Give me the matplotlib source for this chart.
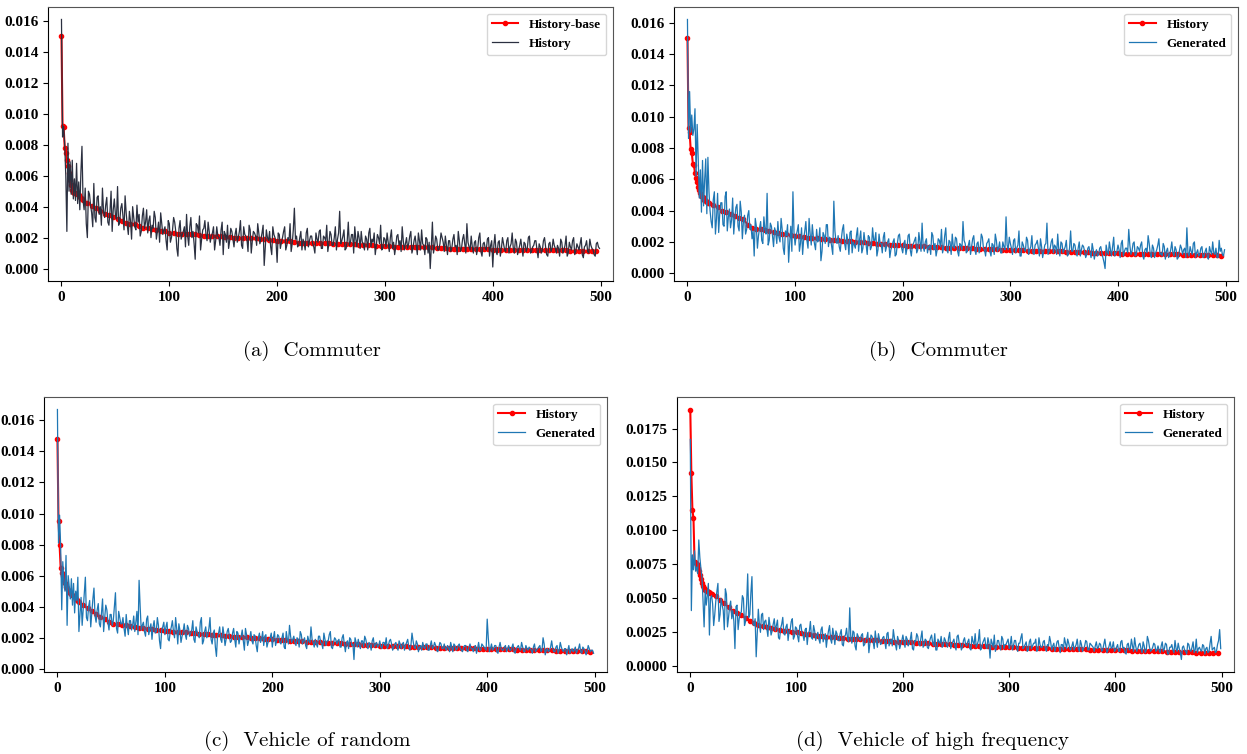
import numpy as np
import matplotlib
matplotlib.use("Agg")
import matplotlib.pyplot as plt

# ---- data ----
# red "history" curves, units of 1e-5; first 20 steps one by one, then every 4 steps
red_a_head = [1500, 920, 915, 780, 750, 700, 660, 620, 570, 540,
              505, 495, 490, 488, 485, 482, 475, 465, 455, 448]
red_a_tail = [440, 425, 405, 390, 375, 355, 345, 330, 320, 305,
              295, 290, 285, 275, 265, 262, 255, 250, 245, 240,
              232, 228, 225, 225, 223, 222, 222, 215, 212, 210,
              210, 210, 208, 205, 205, 200, 198, 197, 196, 195,
              195, 193, 190, 183, 182, 181, 180, 180, 178, 170,
              168, 167, 166, 166, 165, 165, 164, 163, 160, 158,
              157, 157, 156, 156, 155, 155, 154, 153, 145, 144,
              143, 143, 142, 142, 142, 141, 141, 140, 140, 140,
              139, 139, 130, 130, 130, 129, 129, 129, 128, 128,
              128, 128, 127, 127, 127, 122, 122, 122, 121, 121,
              121, 121, 120, 120, 120, 120, 119, 119, 119, 119,
              118, 118, 118, 112, 112, 112, 111, 111, 111, 111]

red_b_head = [1500, 930, 900, 790, 770, 700, 690, 640, 610, 580,
              550, 530, 510, 495, 485, 470, 465, 460, 455, 450]
red_b_tail = [450, 435, 420, 400, 390, 375, 365, 355, 345, 310,
              290, 285, 280, 278, 270, 262, 258, 252, 248, 243,
              240, 236, 232, 228, 225, 222, 220, 218, 215, 213,
              210, 208, 206, 204, 202, 200, 198, 195, 192, 188,
              186, 184, 182, 180, 179, 178, 177, 176, 175, 174,
              172, 170, 168, 166, 165, 164, 163, 162, 161, 160,
              159, 158, 157, 156, 155, 154, 153, 152, 151, 150,
              149, 148, 147, 146, 145, 145, 144, 143, 142, 141,
              140, 140, 139, 138, 137, 136, 135, 134, 133, 132,
              131, 130, 129, 128, 127, 127, 126, 126, 125, 125,
              124, 124, 123, 123, 122, 122, 121, 121, 120, 120,
              119, 119, 118, 118, 117, 116, 115, 115, 114, 113]

red_c_head = [1480, 950, 800, 650, 620, 600, 570, 550, 530, 520,
              510, 500, 490, 485, 478, 470, 460, 450, 442, 435]
red_c_tail = [430, 410, 390, 372, 355, 335, 318, 300, 290, 287,
              285, 280, 275, 270, 266, 262, 258, 255, 252, 248,
              245, 242, 240, 238, 236, 234, 231, 228, 225, 223,
              222, 220, 218, 215, 213, 210, 208, 206, 204, 202,
              200, 198, 196, 194, 192, 190, 188, 186, 184, 182,
              180, 178, 176, 174, 172, 171, 170, 169, 168, 167,
              166, 165, 163, 161, 159, 157, 155, 154, 153, 152,
              150, 149, 148, 147, 146, 145, 144, 143, 142, 141,
              140, 139, 138, 137, 136, 135, 134, 133, 133, 132,
              132, 131, 131, 130, 130, 130, 129, 128, 127, 126,
              125, 125, 124, 123, 122, 121, 120, 120, 119, 119,
              118, 117, 116, 116, 115, 114, 113, 112, 112, 111]

red_d_head = [1890, 1420, 1150, 1090, 770, 760, 750, 720, 700, 670,
              640, 610, 590, 575, 565, 560, 555, 550, 545, 540]
red_d_tail = [535, 515, 490, 465, 435, 405, 390, 375, 355, 335,
              320, 305, 295, 288, 280, 272, 268, 263, 258, 254,
              250, 245, 240, 235, 230, 226, 222, 218, 215, 212,
              209, 206, 204, 202, 200, 198, 196, 194, 192, 190,
              188, 186, 184, 182, 181, 180, 178, 176, 174, 172,
              170, 168, 166, 164, 163, 162, 161, 160, 158, 156,
              155, 153, 151, 150, 148, 147, 145, 144, 142, 141,
              140, 139, 138, 137, 136, 135, 134, 133, 132, 131,
              130, 129, 128, 127, 126, 125, 125, 124, 124, 123,
              123, 122, 122, 121, 121, 120, 119, 118, 117, 116,
              115, 114, 113, 112, 111, 110, 109, 108, 107, 106,
              105, 104, 103, 102, 101, 100, 99, 98, 97, 96]

# noisy curves, units of 1e-4; first 20 steps one by one,
# then even steps (x = 20, 22, ...) and odd steps (x = 21, 23, ...)
hist_a_head = [161, 85, 92, 80, 60, 24, 81, 50, 69, 48,
               70, 45, 58, 44, 68, 42, 56, 38, 62, 79]
hist_a_even = [44, 52, 20, 48, 36, 55, 30, 47, 40, 52,
               33, 46, 28, 50, 38, 35, 53, 30, 42, 25,
               36, 22, 31, 40, 27, 41, 35, 24, 39, 30,
               23, 34, 28, 37, 19, 30, 36, 22, 27, 12,
               29, 20, 33, 24, 8, 31, 22, 27, 35, 15,
               33, 24, 6, 28, 34, 19, 26, 22, 30, 17,
               23, 12, 27, 20, 25, 9, 22, 28, 18, 24,
               14, 26, 20, 31, 13, 22, 19, 28, 10, 24,
               21, 29, 16, 23, 2, 25, 18, 14, 27, 20,
               4, 22, 17, 24, 12, 20, 29, 16, 39, 21,
               15, 24, 19, 12, 26, 18, 21, 14, 23, 17,
               25, 13, 20, 28, 16, 22, 15, 27, 19, 37,
               18, 25, 13, 30, 17, 22, 27, 14, 20, 24,
               16, 21, 12, 26, 19, 23, 15, 20, 28, 13,
               19, 23, 11, 25, 17, 14, 22, 18, 27, 12,
               20, 16, 24, 13, 21, 9, 18, 25, 15, 20,
               10, 0, 30, 14, 19, 12, 23, 17, 21, 9,
               18, 13, 22, 15, 24, 11, 19, 16, 29, 14,
               21, 10, 18, 13, 23, 8, 17, 12, 20, 15,
               1, 22, 9, 18, 13, 16, 11, 20, 14, 23,
               10, 17, 12, 19, 8, 16, 13, 21, 11, 15,
               18, 7, 14, 12, 20, 9, 16, 11, 19, 13,
               15, 8, 17, 12, 21, 10, 14, 18, 9, 16,
               12, 20, 7, 15, 11, 19, 13, 9, 16, 14]
hist_a_odd = [38, 29, 50, 41, 27, 33, 46, 35, 28, 37,
              41, 30, 37, 24, 45, 32, 28, 39, 34, 47,
              28, 37, 19, 33, 25, 30, 21, 34, 26, 38,
              31, 20, 26, 33, 24, 17, 29, 25, 18, 31,
              17, 25, 30, 13, 26, 19, 24, 14, 21, 27,
              20, 16, 29, 23, 12, 25, 31, 18, 24, 21,
              27, 18, 21, 15, 30, 24, 17, 13, 26, 19,
              22, 17, 24, 15, 27, 21, 11, 25, 18, 23,
              15, 23, 19, 28, 14, 20, 24, 9, 22, 17,
              23, 13, 20, 27, 15, 18, 11, 25, 19, 14,
              20, 12, 17, 23, 14, 21, 16, 10, 19, 24,
              13, 21, 18, 11, 24, 15, 20, 12, 23, 16,
              21, 12, 18, 15, 22, 10, 19, 24, 13, 17,
              12, 19, 23, 14, 17, 9, 22, 16, 12, 20,
              14, 17, 20, 13, 9, 21, 15, 11, 18, 16,
              13, 21, 10, 18, 15, 23, 12, 16, 9, 19,
              17, 14, 10, 21, 12, 16, 20, 11, 15, 18,
              11, 19, 14, 9, 18, 13, 22, 10, 17, 12,
              14, 17, 9, 20, 11, 16, 13, 19, 8, 18,
              15, 11, 17, 8, 20, 12, 18, 10, 16, 13,
              19, 9, 15, 13, 17, 11, 20, 10, 14, 18,
              12, 16, 10, 18, 14, 8, 17, 13, 15, 10,
              13, 19, 10, 15, 8, 17, 12, 20, 11, 14,
              16, 9, 14, 18, 10, 15, 12, 8, 17, 13]

gen_b_head = [162, 86, 116, 90, 101, 88, 92, 105, 62, 95,
              73, 48, 66, 39, 72, 43, 60, 73, 38, 74]
gen_b_even = [52, 33, 47, 25, 51, 38, 45, 30, 52, 36,
              29, 48, 35, 44, 27, 39, 33, 25, 37, 28,
              22, 11, 30, 24, 33, 19, 28, 51, 21, 30,
              17, 26, 33, 20, 28, 12, 24, 7, 30, 52,
              18, 27, 14, 29, 22, 33, 16, 25, 31, 19,
              28, 21, 8, 26, 19, 31, 23, 17, 46, 20,
              24, 14, 28, 19, 25, 12, 27, 20, 16, 29,
              22, 13, 26, 18, 24, 15, 29, 21, 11, 25,
              19, 23, 14, 20, 10, 17, 22, 12, 24, 18,
              13, 21, 16, 25, 11, 19, 23, 15, 20, 32,
              14, 22, 17, 12, 24, 19, 15, 21, 28, 16,
              29, 13, 20, 25, 16, 22, 11, 18, 33, 19,
              14, 21, 17, 24, 12, 20, 16, 23, 15, 19,
              22, 11, 18, 25, 14, 20, 13, 17, 36, 15,
              19, 12, 22, 16, 27, 11, 18, 14, 21, 15,
              24, 12, 19, 16, 22, 10, 18, 32, 14, 20,
              13, 17, 25, 11, 19, 15, 21, 12, 27, 14,
              18, 11, 20, 15, 17, 10, 16, 13, 19, 9,
              15, 12, 17, 10, 3, 14, 20, 11, 23, 13,
              18, 10, 21, 14, 16, 28, 12, 19, 11, 17,
              14, 20, 9, 16, 24, 12, 18, 10, 15, 22,
              13, 19, 9, 16, 12, 20, 11, 15, 10, 18,
              12, 16, 29, 11, 14, 19, 10, 15, 12, 17,
              11, 16, 9, 14, 20, 12, 10, 21, 16, 11]
gen_b_odd = [40, 29, 52, 35, 26, 45, 31, 49, 27, 41,
             34, 25, 42, 30, 46, 22, 37, 28, 40, 31,
             27, 35, 16, 29, 21, 36, 25, 18, 32, 24,
             29, 19, 23, 35, 16, 27, 31, 20, 14, 26,
             24, 31, 19, 12, 27, 21, 35, 18, 23, 15,
             20, 29, 14, 24, 31, 17, 22, 12, 27, 19,
             17, 22, 31, 15, 21, 26, 13, 18, 24, 14,
             27, 16, 20, 12, 23, 17, 21, 26, 15, 19,
             13, 26, 17, 22, 15, 20, 11, 19, 25, 16,
             19, 12, 24, 15, 18, 21, 13, 26, 14, 17,
             20, 13, 18, 26, 15, 11, 22, 17, 13, 24,
             15, 21, 12, 17, 23, 14, 19, 15, 21, 13,
             18, 12, 22, 15, 19, 13, 25, 16, 11, 20,
             14, 19, 12, 21, 16, 13, 20, 15, 18, 23,
             16, 21, 13, 18, 11, 20, 15, 23, 12, 17,
             13, 18, 21, 11, 17, 14, 19, 12, 16, 22,
             18, 12, 15, 20, 13, 17, 11, 16, 14, 19,
             13, 16, 11, 18, 14, 12, 17, 10, 15, 13,
             11, 16, 13, 7, 18, 12, 15, 17, 11, 14,
             15, 19, 11, 16, 13, 18, 14, 20, 12, 16,
             18, 11, 15, 13, 19, 10, 16, 13, 18, 12,
             11, 17, 14, 10, 15, 13, 17, 9, 14, 16,
             15, 10, 13, 17, 12, 20, 13, 11, 16, 10,
             14, 10, 17, 12, 13, 16, 10, 14, 12, 15]

gen_c_head = [167, 81, 99, 79, 38, 69, 55, 50, 73, 28,
              60, 53, 45, 58, 41, 55, 36, 50, 44, 59]
gen_c_even = [24, 46, 38, 59, 31, 44, 36, 52, 30, 42,
              27, 45, 33, 38, 25, 35, 31, 49, 23, 33,
              29, 26, 35, 22, 31, 28, 24, 37, 57, 25,
              30, 21, 34, 26, 19, 31, 24, 28, 13, 27,
              22, 30, 18, 27, 24, 33, 16, 25, 21, 29,
              19, 26, 23, 31, 17, 24, 20, 33, 18, 27,
              22, 33, 16, 25, 8, 23, 19, 27, 15, 24,
              21, 18, 26, 14, 23, 20, 25, 12, 22, 18,
              24, 16, 21, 11, 23, 19, 15, 22, 17, 20,
              14, 24, 18, 21, 16, 23, 13, 19, 28, 17,
              21, 15, 19, 24, 16, 20, 13, 18, 27, 17,
              19, 14, 21, 16, 23, 15, 18, 24, 13, 20,
              16, 19, 14, 22, 11, 18, 20, 15, 6, 17,
              19, 13, 18, 21, 15, 17, 12, 20, 16, 14,
              18, 13, 17, 20, 15, 19, 12, 16, 14, 18,
              13, 17, 15, 19, 12, 23, 14, 18, 11, 15,
              17, 13, 16, 12, 18, 14, 15, 11, 17, 13,
              16, 12, 14, 17, 11, 15, 13, 16, 12, 14,
              15, 11, 16, 13, 14, 10, 17, 12, 15, 13,
              32, 11, 16, 13, 15, 10, 17, 12, 14, 11,
              15, 12, 16, 10, 14, 13, 17, 11, 15, 12,
              13, 10, 16, 12, 14, 11, 20, 9, 13, 12,
              18, 11, 14, 10, 17, 12, 13, 9, 15, 12,
              11, 14, 12, 16, 10, 13, 9, 15, 11, 12]
gen_c_odd = [35, 28, 49, 33, 40, 27, 45, 34, 38, 29,
             36, 24, 41, 30, 35, 28, 40, 26, 37, 29,
             33, 21, 27, 31, 25, 34, 30, 22, 40, 28,
             24, 32, 22, 29, 27, 23, 33, 18, 25, 30,
             27, 19, 24, 31, 20, 26, 29, 17, 24, 22,
             28, 21, 25, 19, 27, 22, 30, 16, 24, 20,
             26, 19, 23, 14, 21, 27, 17, 22, 19, 26,
             17, 23, 19, 24, 16, 21, 18, 26, 15, 20,
             18, 22, 15, 20, 17, 24, 21, 14, 19, 23,
             20, 15, 22, 17, 20, 14, 24, 16, 21, 19,
             17, 20, 14, 22, 18, 15, 21, 17, 19, 14,
             16, 21, 17, 13, 19, 18, 22, 14, 17, 19,
             18, 14, 20, 16, 17, 13, 19, 16, 20, 14,
             15, 18, 14, 19, 13, 16, 18, 14, 17, 15,
             14, 17, 15, 13, 18, 16, 14, 17, 12, 16,
             16, 12, 17, 14, 15, 18, 13, 16, 14, 12,
             14, 16, 12, 15, 13, 17, 12, 14, 16, 13,
             13, 15, 11, 14, 16, 12, 15, 13, 11, 15,
             12, 14, 13, 11, 15, 13, 12, 16, 14, 12,
             20, 13, 12, 15, 11, 14, 13, 12, 15, 13,
             12, 14, 11, 13, 15, 12, 14, 11, 13, 14,
             12, 14, 11, 13, 15, 12, 16, 12, 11, 14,
             13, 11, 15, 12, 14, 11, 13, 12, 10, 13,
             12, 10, 13, 11, 14, 12, 11, 13, 12, 10]

gen_d_head = [167, 41, 82, 71, 85, 70, 73, 68, 93, 80,
              72, 65, 48, 29, 56, 45, 52, 61, 23, 50]
gen_d_even = [52, 30, 48, 61, 38, 45, 27, 53, 36, 48,
              41, 13, 45, 35, 40, 50, 33, 68, 38, 66,
              30, 7, 42, 25, 39, 33, 28, 36, 23, 31,
              26, 34, 20, 31, 24, 29, 19, 27, 35, 22,
              28, 18, 31, 23, 27, 16, 26, 21, 30, 19,
              25, 17, 29, 22, 14, 26, 20, 28, 16, 24,
              19, 27, 15, 23, 20, 43, 17, 25, 12, 22,
              19, 24, 16, 21, 10, 23, 18, 26, 14, 20,
              17, 22, 13, 25, 18, 15, 21, 12, 19, 16,
              23, 14, 20, 17, 25, 12, 18, 22, 15, 26,
              16, 19, 13, 21, 17, 24, 12, 18, 22, 15,
              19, 14, 25, 16, 20, 12, 23, 17, 14, 21,
              15, 20, 12, 18, 24, 16, 27, 13, 19, 15,
              21, 6, 17, 23, 14, 19, 12, 20, 16, 18,
              13, 22, 15, 19, 11, 17, 24, 14, 18, 12,
              20, 15, 17, 11, 21, 14, 18, 13, 16, 22,
              12, 17, 14, 19, 10, 16, 21, 13, 17, 12,
              18, 14, 20, 11, 16, 13, 19, 12, 17, 15,
              11, 18, 14, 16, 12, 20, 10, 15, 13, 18,
              12, 16, 11, 19, 14, 9, 17, 13, 15, 21,
              11, 16, 13, 18, 10, 22, 14, 12, 17, 11,
              15, 10, 18, 13, 16, 9, 14, 12, 19, 11,
              13, 5, 15, 11, 17, 12, 14, 10, 20, 13,
              12, 16, 9, 14, 11, 22, 13, 10, 16, 27]
gen_d_odd = [46, 38, 55, 33, 50, 41, 57, 29, 44, 35,
             33, 44, 27, 39, 52, 30, 46, 36, 54, 31,
             35, 25, 31, 38, 27, 34, 22, 30, 26, 35,
             30, 21, 28, 36, 23, 31, 26, 33, 20, 29,
             22, 30, 25, 19, 28, 24, 33, 20, 26, 23,
             20, 27, 18, 24, 21, 30, 17, 23, 26, 19,
             24, 16, 22, 28, 18, 21, 26, 15, 24, 20,
             23, 15, 20, 25, 17, 22, 13, 19, 24, 16,
             21, 18, 24, 15, 20, 27, 16, 22, 13, 19,
             18, 22, 15, 20, 13, 19, 24, 16, 21, 14,
             20, 14, 18, 23, 15, 12, 20, 17, 14, 21,
             16, 21, 13, 18, 15, 22, 17, 12, 19, 16,
             18, 13, 22, 16, 14, 19, 12, 17, 21, 13,
             17, 20, 14, 11, 19, 15, 22, 13, 16, 20,
             16, 12, 19, 14, 17, 21, 13, 16, 11, 18,
             13, 17, 20, 12, 16, 14, 19, 11, 15, 18,
             15, 11, 18, 14, 16, 12, 17, 20, 13, 15,
             12, 16, 13, 19, 11, 15, 18, 12, 16, 14,
             15, 13, 17, 11, 16, 14, 12, 18, 14, 11,
             14, 11, 18, 13, 10, 16, 12, 20, 11, 15,
             13, 17, 10, 15, 12, 19, 11, 14, 16, 12,
             12, 15, 11, 17, 9, 14, 16, 10, 13, 17,
             10, 14, 12, 9, 16, 11, 18, 12, 10, 14,
             11, 15, 13, 10, 17, 12, 14, 11, 19, 13]

captions = ["(a)  Commuter", "(b)  Commuter",
            "(c)  Vehicle of random", "(d)  Vehicle of high frequency"]
red_labels = ["History-base", "History", "History", "History"]
noisy_labels = ["History", "Generated", "Generated", "Generated"]
x_ticks = [0, 100, 200, 300, 400, 500]
y_ticks_abc = [0.000, 0.002, 0.004, 0.006, 0.008, 0.010, 0.012, 0.014, 0.016]
y_ticks_d = [0.0, 0.0025, 0.005, 0.0075, 0.01, 0.0125, 0.015, 0.0175]


def red_series(head, tail):
    x = np.concatenate([np.arange(len(head)),
                        np.arange(len(head), len(head) + 4 * len(tail), 4)])
    return x, np.array(head + tail, dtype=float) * 1e-5


def noisy_series(head, even, odd):
    n = min(len(even), len(odd))
    tail = np.column_stack([even[:n], odd[:n]]).ravel()
    y = np.concatenate([np.array(head, dtype=float), tail]) * 1e-4
    return np.arange(len(y)), y


red_sets = [(red_a_head, red_a_tail), (red_b_head, red_b_tail),
            (red_c_head, red_c_tail), (red_d_head, red_d_tail)]
noisy_sets = [(hist_a_head, hist_a_even, hist_a_odd),
              (gen_b_head, gen_b_even, gen_b_odd),
              (gen_c_head, gen_c_even, gen_c_odd),
              (gen_d_head, gen_d_even, gen_d_odd)]
noisy_colors = ["#2b3040", "#1f77b4", "#1f77b4", "#1f77b4"]
y_tick_sets = [y_ticks_abc, y_ticks_abc, y_ticks_abc, y_ticks_d]
y_fmt = ["%.3f", "%.3f", "%.3f", "%.4f"]

# ---- figure ----
plt.rcParams['font.family'] = ['Liberation Serif', 'DejaVu Serif']
plt.rcParams['font.weight'] = 'bold'

fig = plt.figure(figsize=(12.47, 7.54), dpi=100)
W, H = 1247.0, 754.0
# axes boxes in pixels: left, top, right, bottom
boxes = [(48, 7, 613, 281), (674, 7, 1238, 281),
         (44, 397, 607, 672), (677, 397, 1234, 672)]
cap_pos = [(312, 351), (938, 351), (307, 741), (933, 741)]

for i in range(4):
    l, t, r, b = boxes[i]
    ax = fig.add_axes([l / W, 1 - b / H, (r - l) / W, (b - t) / H])
    xr, yr = red_series(*red_sets[i])
    xn, yn = noisy_series(*noisy_sets[i])
    ax.plot(xr, yr, color='red', marker='o', markersize=3.0, linewidth=1.5,
            label=red_labels[i], zorder=2)
    ax.plot(xn, yn, color=noisy_colors[i], linewidth=0.9,
            label=noisy_labels[i], zorder=3)
    ax.set_xlim(-12.5, 511.5)
    ax.set_xticks(x_ticks)
    ax.set_yticks(y_tick_sets[i])
    ax.set_yticklabels([y_fmt[i] % v for v in y_tick_sets[i]])
    ax.tick_params(labelsize=11)
    for lab in ax.get_xticklabels() + ax.get_yticklabels():
        lab.set_fontweight('bold')
    for side in ['top', 'right']:
        ax.spines[side].set_color('#555555')
    ax.legend(loc='upper right', prop={'weight': 'bold', 'size': 9.5})
    cx, cy = cap_pos[i]
    fig.text(cx / W, 1 - cy / H, captions[i], ha='center', va='center',
             fontsize=15, family='cmr10', fontweight='normal')

fig.savefig("out.png", dpi=100)
